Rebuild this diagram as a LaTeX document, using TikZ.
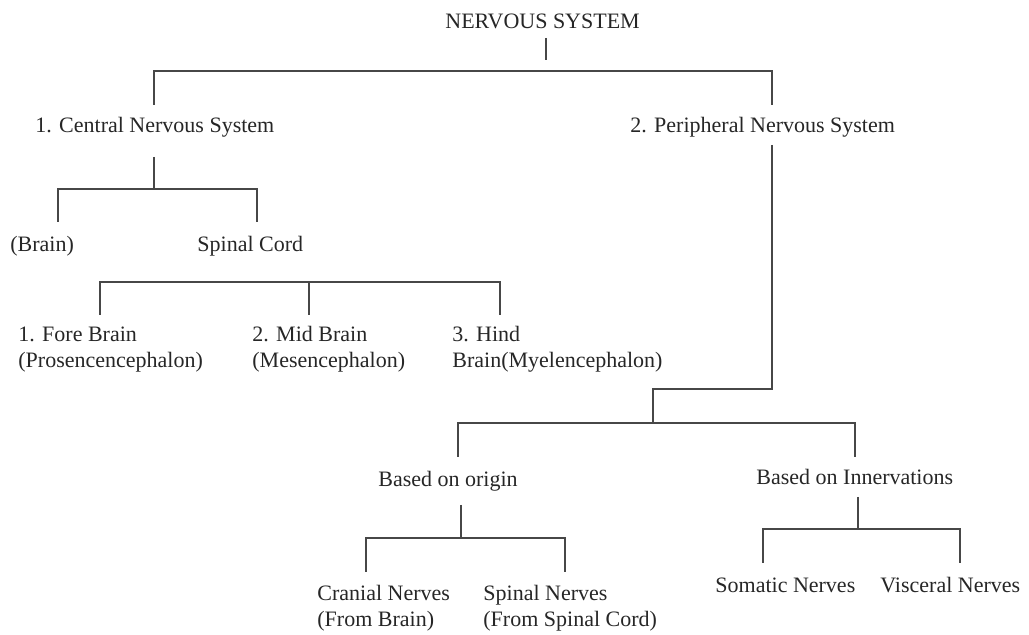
\documentclass[tikz,border=0pt]{standalone}
\usepackage{fontspec}
\setmainfont{Liberation Serif}
\usetikzlibrary{positioning}

\begin{document}
\begin{tikzpicture}[x=0.5pt,y=-0.5pt,
  lbl/.style={anchor=base west, inner sep=0pt, align=left, text=black!85,
    font=\fontsize{11}{13}\selectfont},
  branch/.style={line width=1pt, draw=black!72}]
  \useasboundingbox (0,0) rectangle (1029,635);
  % labels, placed at left edge / baseline of last line (px)
  \node[lbl] (ns) at (445,29) {NERVOUS SYSTEM};
  \node[lbl] (cns) at (35,133) {1. Central Nervous System};
  \node[lbl] (pns) at (630,133) {2. Peripheral Nervous System};
  \node[lbl] (brain) at (10,252) {(Brain)};
  \node[lbl] (spinal) at (197,252) {Spinal Cord};
  \node[lbl] (fore) at (18,368) {1. Fore Brain\\(Prosencencephalon)};
  \node[lbl] (mid) at (252,368) {2. Mid Brain\\(Mesencephalon)};
  \node[lbl] (hind) at (452,368) {3. Hind\\Brain(Myelencephalon)};
  \node[lbl] (origin) at (378,487) {Based on origin};
  \node[lbl] (innerv) at (756,485) {Based on Innervations};
  \node[lbl] (cranial) at (317,627) {Cranial Nerves\\(From Brain)};
  \node[lbl] (spnerve) at (483,627) {Spinal Nerves\\(From Spinal Cord)};
  \node[lbl] (somatic) at (715,593) {Somatic Nerves};
  \node[lbl] (visceral) at (880,593) {Visceral Nerves};
  % tree corners
  \foreach \n/\x/\y in {t1/546/38, t2/546/60,
      a1/154/105, a3/772/71, a4/772/105,
      b0/154/157, b1/154/189, b2/58/222, b3/257/189, b4/257/222,
      c1/100/315, c3/500/282, c4/500/315, c5/309/282, c6/309/315,
      d0/772/145, d1/653/389, d2/653/423,
      e1/458/457, e3/855/423, e4/855/457,
      f0/461/505, f1/461/538, f2/366/572, f3/565/538, f4/565/572,
      g0/858/497, g1/858/529, g2/763/563, g3/960/529, g4/960/563}
    \coordinate (\n) at (\x,\y);
  % nervous system split
  \draw[branch] (t1) -- (t2);
  \draw[branch] (a1) |- (a3) -- (a4);
  % central branch
  \draw[branch] (b0) -- (b1);
  \draw[branch] (b2) |- (b3) -- (b4);
  \draw[branch] (c1) |- (c3) -- (c4);
  \draw[branch] (c5) -- (c6);
  % peripheral branch
  \draw[branch] (d0) |- (d1) -- (d2);
  \draw[branch] (e1) |- (e3) -- (e4);
  \draw[branch] (f0) -- (f1);
  \draw[branch] (f2) |- (f3) -- (f4);
  \draw[branch] (g0) -- (g1);
  \draw[branch] (g2) |- (g3) -- (g4);
\end{tikzpicture}
\end{document}
